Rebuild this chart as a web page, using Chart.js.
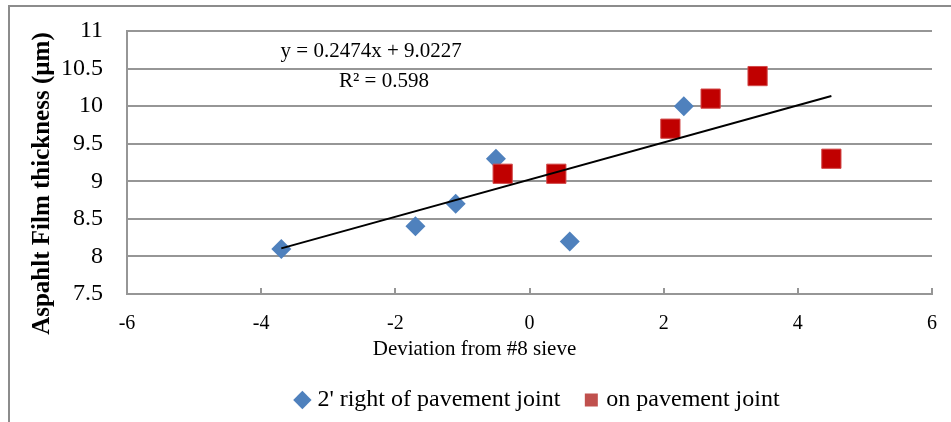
<!DOCTYPE html>
<html>
<head>
<meta charset="utf-8">
<script src="https://cdn.jsdelivr.net/npm/chart.js@4.4.0/dist/chart.umd.min.js"></script>
<style>
  html, body { margin: 0; padding: 0; background: #fff; overflow: hidden; }
  #frame { position: absolute; left: 8px; top: 5px; width: 1000px; height: 500px;
           border-top: 2px solid #8c8c8c; border-left: 2px solid #8c8c8c; }
  #wrap { position: absolute; left: 0; top: 0; width: 951px; height: 422px; }
</style>
</head>
<body>
<div id="frame"></div>
<div id="wrap"><canvas id="myChart"></canvas></div>
<script>
// data
const rightOfJointX = [-3.7, -1.7, -1.1, -0.5, 0.6, 2.3];
const rightOfJointY = [8.1, 8.4, 8.7, 9.3, 8.2, 10.0];
const onJointX = [-0.4, 0.4, 2.1, 2.7, 3.4, 4.5];
const onJointY = [9.1, 9.1, 9.7, 10.1, 10.4, 9.3];
const trendSlope = 0.2474;
const trendIntercept = 9.0227;
const trendR2 = 0.598;
const xTicks = [-6, -4, -2, 0, 2, 4, 6];
const xTitle = 'Deviation from #8 sieve';
const yTitle = 'Aspahlt Film thickness (µm)';

const serif = '"Liberation Serif", "Times New Roman", serif';
const gridColor = '#969696';

const allX = rightOfJointX.concat(onJointX);
const trendX = [Math.min(...allX), Math.max(...allX)];
const trendPts = trendX.map(v => ({ x: v, y: trendSlope * v + trendIntercept }));

const toPts = (xs, ys) => xs.map((v, i) => ({ x: v, y: ys[i] }));

const extras = {
  id: 'extras',
  afterLayout(chart) {
    // nudge legend to sit where the original one does
    chart.legend.left += 10;
    chart.legend.right += 10;
  },
  afterDraw(chart) {
    const { ctx, scales: { x, y } } = chart;
    ctx.save();
    // small inward tick marks on the x axis
    ctx.strokeStyle = gridColor;
    ctx.lineWidth = 2;
    xTicks.forEach(t => {
      const px = Math.round(x.getPixelForValue(t));
      ctx.beginPath();
      ctx.moveTo(px, y.bottom);
      ctx.lineTo(px, y.bottom - 6);
      ctx.stroke();
    });
    ctx.fillStyle = '#000';
    ctx.textAlign = 'center';
    ctx.textBaseline = 'middle';
    // trendline equation
    ctx.font = '21px ' + serif;
    ctx.fillText('y = ' + trendSlope + 'x + ' + trendIntercept, x.getPixelForValue(-2.36), y.getPixelForValue(10.73));
    ctx.fillText('R² = ' + trendR2, x.getPixelForValue(-2.17), y.getPixelForValue(10.33));
    // axis titles (the original sits them off-centre)
    ctx.fillText(xTitle, x.getPixelForValue(-0.82), y.bottom + 55);
    ctx.font = 'bold 25px ' + serif;
    ctx.translate(43, y.getPixelForValue(8.97));
    ctx.rotate(-Math.PI / 2);
    ctx.fillText(yTitle, 0, 0);
    ctx.restore();
  }
};

const ctx = document.getElementById('myChart');

new Chart(ctx, {
  type: 'scatter',
  data: {
    datasets: [
      {
        label: "2' right of pavement joint",
        data: toPts(rightOfJointX, rightOfJointY),
        pointStyle: 'rectRot',
        pointRadius: 10,
        backgroundColor: '#4F81BD',
        borderColor: '#4F81BD',
        pointBorderWidth: 0,
        order: 2
      },
      {
        label: 'on pavement joint',
        data: toPts(onJointX, onJointY),
        pointStyle: 'rect',
        pointRadius: 13.6,
        backgroundColor: '#C00000',
        borderColor: '#D24A4A',
        pointBorderWidth: 1,
        order: 1
      },
      {
        type: 'line',
        label: 'trend',
        data: trendPts,
        borderColor: '#000',
        borderWidth: 2,
        pointRadius: 0,
        fill: false,
        order: 0
      }
    ]
  },
  options: {
    responsive: true,
    maintainAspectRatio: false,
    animation: false,
    events: [],
    layout: { padding: { left: 10, right: 19, top: 31, bottom: 0 } },
    plugins: {
      tooltip: { enabled: false },
      legend: {
        position: 'bottom',
        fullSize: false,
        labels: {
          usePointStyle: true,
          boxWidth: 6,
          boxHeight: 13,
          padding: 28,
          color: '#000',
          font: { family: serif, size: 24 },
          filter: item => item.datasetIndex !== 2,
          sort: (a, b) => a.datasetIndex - b.datasetIndex,
          generateLabels(chart) {
            const items = Chart.defaults.plugins.legend.labels.generateLabels(chart);
            items.forEach(it => {
              if (it.datasetIndex === 1) { it.fillStyle = '#C0504D'; it.strokeStyle = '#C0504D'; }
              it.lineWidth = 0;
            });
            return items;
          }
        }
      }
    },
    scales: {
      x: {
        type: 'linear',
        min: -6,
        max: 6,
        afterFit: s => { s.height = 66; },
        afterBuildTicks: s => { s.ticks = xTicks.map(v => ({ value: v })); },
        grid: { display: false, drawTicks: true, tickLength: 18 },
        border: { display: true, color: gridColor, width: 2 },
        ticks: { color: '#000', padding: 0, font: { family: serif, size: 20 } },
        title: { display: false }
      },
      y: {
        min: 7.5,
        max: 11,
        afterFit: s => { s.width = 117; },
        grid: { color: gridColor, lineWidth: 2, drawTicks: true, tickLength: 24, tickColor: 'rgba(0,0,0,0)' },
        border: { display: true, color: gridColor, width: 2 },
        ticks: { stepSize: 0.5, color: '#000', padding: 0, font: { family: serif, size: 24 },
                 callback: v => String(v) },
        title: { display: false }
      }
    }
  },
  plugins: [extras]
});
</script>
</body>
</html>
